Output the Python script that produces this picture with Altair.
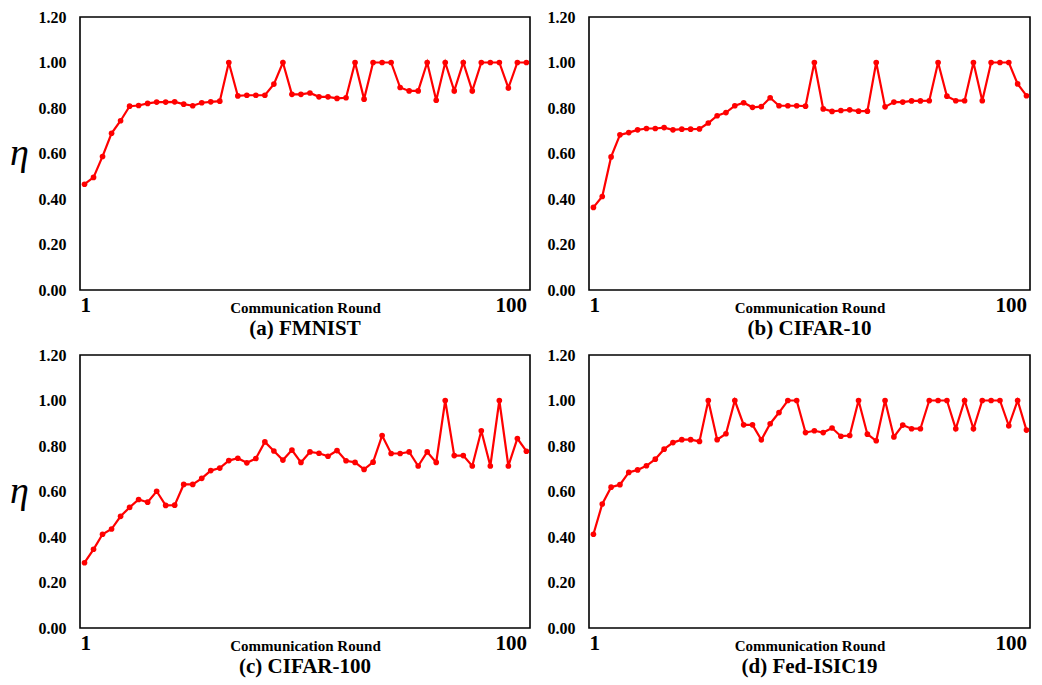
import altair as alt
import pandas as pd

ROUNDS = list(range(2, 101, 2))

FMNIST = [0.465, 0.495, 0.587, 0.689, 0.744, 0.808, 0.811, 0.820, 0.826, 0.826,
          0.827, 0.817, 0.810, 0.823, 0.827, 0.830, 1.0, 0.853, 0.856, 0.856,
          0.856, 0.905, 1.0, 0.860, 0.860, 0.866, 0.849, 0.849, 0.842, 0.845,
          1.0, 0.839, 1.0, 1.0, 1.0, 0.890, 0.875, 0.875, 1.0, 0.834,
          1.0, 0.875, 1.0, 0.875, 1.0, 1.0, 1.0, 0.888, 1.0, 1.0]

CIFAR10 = [0.363, 0.411, 0.585, 0.682, 0.692, 0.704, 0.710, 0.710, 0.714, 0.704,
           0.707, 0.707, 0.708, 0.734, 0.766, 0.780, 0.810, 0.823, 0.803, 0.806,
           0.845, 0.810, 0.810, 0.810, 0.808, 1.0, 0.796, 0.785, 0.789, 0.792,
           0.786, 0.786, 1.0, 0.805, 0.826, 0.826, 0.831, 0.831, 0.832, 1.0,
           0.852, 0.832, 0.832, 1.0, 0.832, 1.0, 1.0, 1.0, 0.906, 0.854]

CIFAR100 = [0.287, 0.346, 0.412, 0.435, 0.491, 0.530, 0.565, 0.553, 0.601, 0.539,
            0.540, 0.631, 0.631, 0.658, 0.692, 0.703, 0.736, 0.746, 0.726, 0.745,
            0.818, 0.778, 0.738, 0.782, 0.728, 0.774, 0.768, 0.755, 0.780, 0.735,
            0.728, 0.697, 0.729, 0.846, 0.767, 0.767, 0.774, 0.712, 0.774, 0.728,
            1.0, 0.758, 0.758, 0.712, 0.867, 0.712, 1.0, 0.712, 0.833, 0.777]

FEDISIC = [0.412, 0.545, 0.619, 0.630, 0.684, 0.695, 0.713, 0.742, 0.786, 0.815,
           0.828, 0.828, 0.820, 1.0, 0.828, 0.854, 1.0, 0.893, 0.893, 0.827,
           0.898, 0.947, 1.0, 1.0, 0.859, 0.867, 0.859, 0.879, 0.843, 0.846,
           1.0, 0.852, 0.823, 1.0, 0.840, 0.892, 0.876, 0.876, 1.0, 1.0,
           1.0, 0.876, 1.0, 0.876, 1.0, 1.0, 1.0, 0.889, 1.0, 0.870]

TITLES = ["(a) FMNIST", "(b) CIFAR-10", "(c) CIFAR-100", "(d) Fed-ISIC19"]
Y_TICKS = [0.0, 0.2, 0.4, 0.6, 0.8, 1.0, 1.2]
X_TICKS = [1, 100]

SERIF = "Liberation Serif"
RED = "#ff0000"


def panel(values, title, show_eta, width):
    df = pd.DataFrame({"round": ROUNDS, "eta": values})
    yaxis = alt.Axis(
        values=Y_TICKS, format=".2f", grid=False, ticks=False, domain=False,
        labelFont=SERIF, labelFontSize=16, labelFontWeight="bold",
        labelColor="black", labelPadding=14,
        title="η" if show_eta else None,
        titleFont=SERIF, titleFontSize=38, titleFontStyle="italic",
        titleFontWeight="normal", titleAngle=0, titleColor="black",
        titlePadding=19, titleBaseline="middle",
    )
    xaxis = alt.Axis(
        values=X_TICKS, grid=False, ticks=False, domain=False,
        labelFont=SERIF, labelFontSize=21, labelFontWeight="bold",
        labelColor="black", labelPadding=4, labelFlush=8,
        title="Communication Round", titleFont=SERIF, titleFontSize=15,
        titleFontWeight="bold", titleColor="black",
        titleBaseline="alphabetic", titleY=22,
    )
    base = alt.Chart(df).encode(
        x=alt.X("round:Q", scale=alt.Scale(domain=[1, 100.8], nice=False, zero=False), axis=xaxis),
        y=alt.Y("eta:Q", scale=alt.Scale(domain=[0, 1.2], nice=False), axis=yaxis),
    )
    line = base.mark_line(color=RED, strokeWidth=2.2)
    pts = base.mark_circle(color=RED, size=32, opacity=1)
    return alt.layer(line, pts).properties(
        width=width, height=273,
        title=alt.TitleParams(
            title, orient="bottom", anchor="middle", frame="group",
            font=SERIF, fontSize=21, fontWeight="bold", color="black", offset=3,
        ),
    )


row1 = alt.hconcat(
    panel(FMNIST, TITLES[0], True, 450),
    panel(CIFAR10, TITLES[1], False, 441),
    spacing=14,
)
row2 = alt.hconcat(
    panel(CIFAR100, TITLES[2], True, 450),
    panel(FEDISIC, TITLES[3], False, 441),
    spacing=14,
)

chart = alt.vconcat(row1, row2, spacing=6).properties(
    padding={"left": 0, "top": 0, "right": 0, "bottom": 0},
    background="white",
).configure_view(
    stroke="black", strokeWidth=1.6
)

chart.save("out.html", embed_options={"renderer": "svg", "actions": False})
